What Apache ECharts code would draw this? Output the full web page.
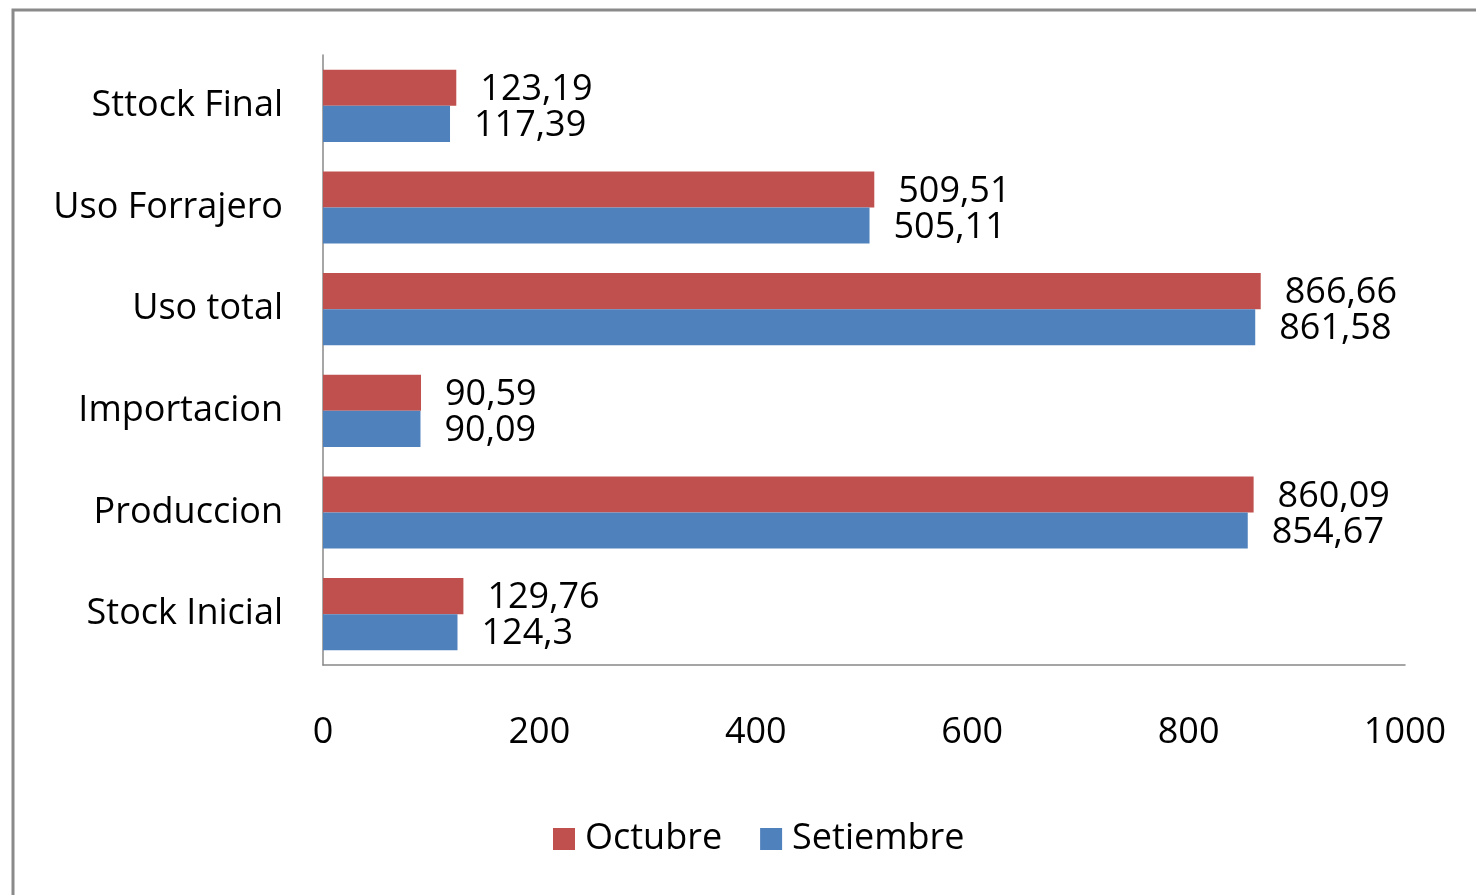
<!DOCTYPE html>
<html lang="es">
<head>
    <meta charset="UTF-8" />
    <title>Balance</title>
    <script src="https://cdn.jsdelivr.net/npm/echarts@6/dist/echarts.min.js"></script>
    <style>
        html, body { margin: 0; padding: 0; background: #fff; }
        #main { width: 1476px; height: 895px; }
    </style>
</head>
<body>
    <div id="main"></div>
    <script type="text/javascript">
        // categories, bottom to top as ECharts draws them
        const categories = ["Stock Inicial", "Produccion", "Importacion", "Uso total", "Uso Forrajero", "Sttock Final"];
        const octubre = [129.76, 860.09, 90.59, 866.66, 509.51, 123.19];
        const setiembre = [124.3, 854.67, 90.09, 861.58, 505.11, 117.39];
        const xTicks = [0, 200, 400, 600, 800, 1000];

        const font = "Open Sans";
        const fmt = (v) => String(v).replace(".", ",");

        const labelStyle = {
            show: true,
            position: "right",
            distance: 24,
            offset: [0, 2],
            fontFamily: font,
            fontSize: 36,
            color: "#000",
            formatter: (p) => fmt(p.value)
        };

        let myChart = echarts.init(document.getElementById("main"));

        let options = {
            animation: false,
            textStyle: { fontFamily: font },
            graphic: [{
                type: "rect",
                shape: { x: 13, y: 10, width: 2000, height: 2000 },
                style: { fill: "none", stroke: "#8a8a8a", lineWidth: 3 }
            }],
            grid: { left: 323, right: 71, top: 55, bottom: 230, containLabel: false },
            legend: {
                data: ["Octubre", "Setiembre"],
                bottom: 33,
                left: 548,
                itemWidth: 22,
                itemHeight: 22,
                itemGap: 38,
                icon: "rect",
                textStyle: { fontFamily: font, fontSize: 36, color: "#000", padding: [0, 0, 0, 5] }
            },
            xAxis: {
                type: "value",
                min: xTicks[0],
                max: xTicks[xTicks.length - 1],
                interval: 200,
                axisLine: { show: true, lineStyle: { color: "#888", width: 1.5 } },
                axisTick: { show: false },
                splitLine: { show: false },
                axisLabel: { margin: 50, fontFamily: font, fontSize: 36, color: "#000", formatter: (v) => String(v) }
            },
            yAxis: {
                type: "category",
                data: categories,
                axisLine: { show: true, lineStyle: { color: "#888", width: 1.5 } },
                axisTick: { show: false },
                axisLabel: { margin: 40, fontFamily: font, fontSize: 36, color: "#000", padding: [3, 0, 0, 0] }
            },
            series: [
                {
                    name: "Octubre",
                    type: "bar",
                    data: octubre,
                    barGap: "0%",
                    barCategoryGap: "29%",
                    itemStyle: { color: "#C0504D" },
                    label: labelStyle
                },
                {
                    name: "Setiembre",
                    type: "bar",
                    data: setiembre,
                    barGap: "0%",
                    barCategoryGap: "29%",
                    itemStyle: { color: "#4F81BD" },
                    label: labelStyle
                }
            ]
        };

        myChart.setOption(options);
    </script>
</body>
</html>
